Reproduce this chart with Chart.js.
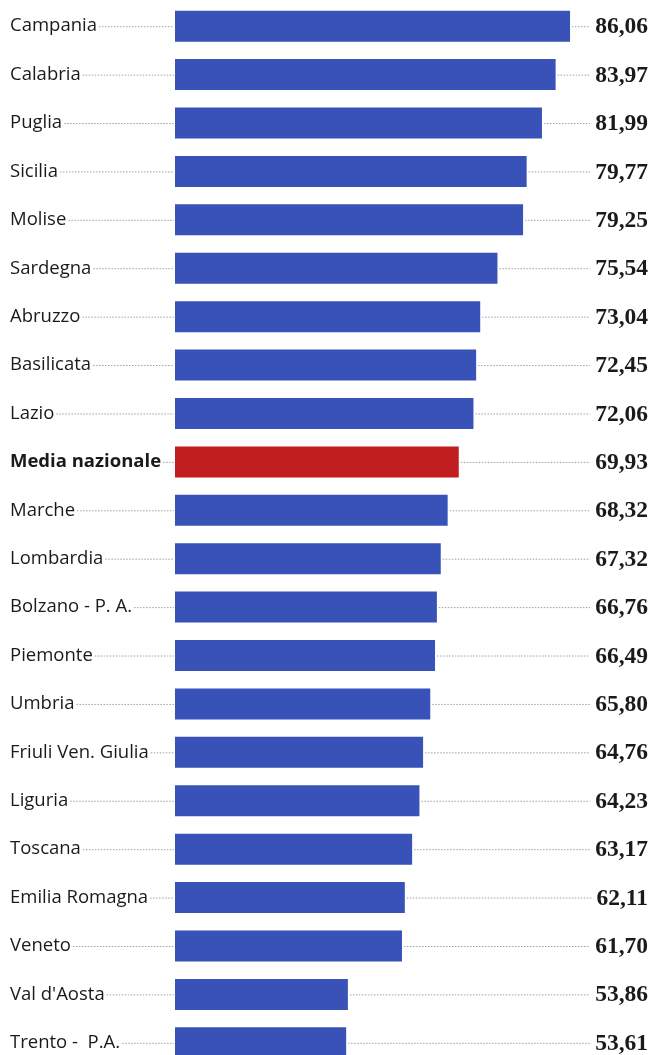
<!DOCTYPE html>
<html>
<head>
<meta charset="utf-8">
<script src="https://cdn.jsdelivr.net/npm/chart.js@4.4.1/dist/chart.umd.min.js"></script>
<style>
  html, body { margin: 0; padding: 0; background: #fff; overflow: hidden; }
  #wrap { position: relative; width: 656px; height: 1070px; }
</style>
</head>
<body>
<div id="wrap"><canvas id="chart"></canvas></div>
<script>
// dati
const regions = ['Campania', 'Calabria', 'Puglia', 'Sicilia', 'Molise', 'Sardegna', 'Abruzzo',
  'Basilicata', 'Lazio', 'Media nazionale', 'Marche', 'Lombardia', 'Bolzano - P. A.', 'Piemonte',
  'Umbria', 'Friuli Ven. Giulia', 'Liguria', 'Toscana', 'Emilia Romagna', 'Veneto',
  "Val d'Aosta", 'Trento -  P.A.'];
const values = [86.06, 83.97, 81.99, 79.77, 79.25, 75.54, 73.04, 72.45, 72.06, 69.93, 68.32,
  67.32, 66.76, 66.49, 65.80, 64.76, 64.23, 63.17, 62.11, 61.70, 53.86, 53.61];
const highlight = 'Media nazionale';

const BLUE = '#3952b7';
const RED = '#c11f1f';

const fmt = v => v.toFixed(2).replace('.', ',');

// etichette, linee tratteggiate e valori
const leaders = {
    id: 'leaders',
    afterDatasetsDraw(chart) {
        const { ctx, scales: { x, y } } = chart;
        const meta = chart.getDatasetMeta(0);
        ctx.save();
        regions.forEach((name, i) => {
            const bar = meta.data[i];
            const cy = y.getPixelForValue(i);
            const bold = name === highlight;
            ctx.font = (bold ? 'bold ' : '') + '18.5px "Open Sans", sans-serif';
            ctx.fillStyle = '#1a1a1a';
            ctx.textAlign = 'left';
            ctx.textBaseline = 'middle';
            ctx.fillText(name, 10, cy);
            const labEnd = 10 + ctx.measureText(name).width;

            ctx.font = 'bold 23.5px "Liberation Serif", serif';
            ctx.textAlign = 'right';
            const txt = fmt(values[i]);
            const right = 648;
            ctx.fillText(txt, right, cy + 1);
            const valStart = right - ctx.measureText(txt).width;

            ctx.strokeStyle = '#a0a0a0';
            ctx.lineWidth = 1;
            ctx.setLineDash([1.5, 1.5]);
            ctx.beginPath();
            ctx.moveTo(labEnd + 2, cy + 0.5);
            ctx.lineTo(x.left - 1, cy + 0.5);
            ctx.moveTo(bar.x + 2, cy + 0.5);
            ctx.lineTo(valStart - 5, cy + 0.5);
            ctx.stroke();
        });
        ctx.restore();
    }
};

new Chart(document.getElementById('chart'), {
    type: 'bar',
    data: {
        labels: regions,
        datasets: [{
            data: values,
            backgroundColor: regions.map(r => r === highlight ? RED : BLUE),
            borderWidth: 0,
            barPercentage: 0.64,
            categoryPercentage: 1
        }]
    },
    options: {
        indexAxis: 'y',
        responsive: true,
        maintainAspectRatio: false,
        animation: false,
        layout: { padding: { left: 175, right: 16, top: 2, bottom: 3 } },
        plugins: { legend: { display: false }, tooltip: { enabled: false } },
        scales: {
            x: { display: false, min: 28.8, max: 96.2, grid: { display: false } },
            y: { display: false, grid: { display: false } }
        }
    },
    plugins: [leaders]
});
</script>
</body>
</html>
